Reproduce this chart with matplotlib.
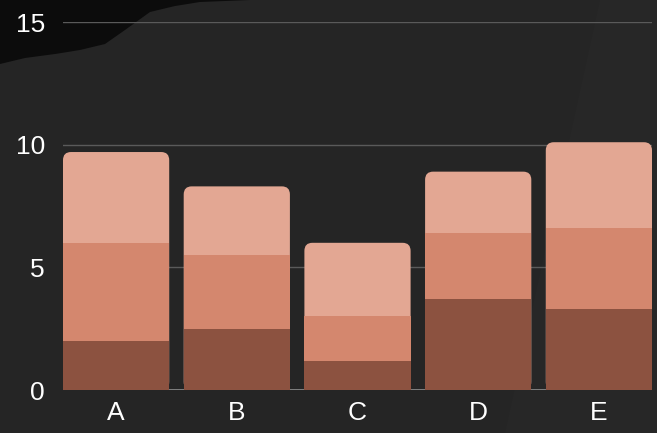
import matplotlib.pyplot as plt
import numpy as np
from matplotlib.patches import FancyBboxPatch, Polygon

plt.rcParams['font.family'] = ['Liberation Sans', 'DejaVu Sans']

# data
categories = ['A', 'B', 'C', 'D', 'E']
bottom_vals = [2.0, 2.5, 1.2, 3.7, 3.3]
mid_vals = [4.0, 3.0, 1.8, 2.7, 3.3]
top_vals = [3.7, 2.8, 3.0, 2.5, 3.5]
yticks = [0, 5, 10, 15]

c_bottom = '#8c5240'
c_mid = '#d4876e'
c_top = '#e3a793'
bg = '#252525'

fig = plt.figure(figsize=(6.57, 4.33), dpi=100, facecolor=bg)

# dark brush stroke in top-left corner (figure pixel coords, origin top-left)
W, H = 657, 433
stroke = [(0, 0), (250, 0), (200, 2), (175, 6), (150, 12), (125, 30), (105, 44),
          (80, 50), (55, 54), (25, 58), (0, 64)]
fig.patches.append(Polygon([(x / W, 1 - y / H) for x, y in stroke], closed=True,
                           transform=fig.transFigure, facecolor='#0c0c0c',
                           edgecolor='none', zorder=-2))
# faint lighter band on the right
band = [(600, 0), (657, 0), (657, 433), (505, 433)]
fig.patches.append(Polygon([(x / W, 1 - y / H) for x, y in band], closed=True,
                           transform=fig.transFigure, facecolor='#272727',
                           edgecolor='none', zorder=-2))

ax = fig.add_axes([63 / W, 43 / H, 589 / W, 368 / H])
ax.set_facecolor('none')

x = np.arange(len(categories))
width = 0.88
b = np.array(bottom_vals)
m = np.array(mid_vals)
t = np.array(top_vals)

# top segment drawn as rounded box covering whole bar, then others over it
rx = 0.066
ry = 0.33
for xi, total in zip(x, b + m + t):
    patch = FancyBboxPatch((xi - width / 2, 0), width, total,
                           boxstyle=f'round,pad=0,rounding_size={rx}',
                           mutation_aspect=ry / rx, facecolor=c_top,
                           edgecolor='none', zorder=2)
    ax.add_patch(patch)
ax.bar(x, m, width, bottom=b, color=c_mid, zorder=3)
ax.bar(x, b, width, color=c_bottom, zorder=3)

ax.set_xlim(-0.44, 4.44)
ax.set_ylim(0, 15)
ax.set_yticks(yticks)
ax.set_xticks(x)
ax.set_xticklabels(categories)
ax.tick_params(colors='white', labelsize=19, length=0)
ax.tick_params(axis='y', pad=13)
ax.tick_params(axis='x', pad=8)
ax.grid(axis='y', color='#5a5a5a', linewidth=1, zorder=1)
ax.axhline(0, color='#9a9a9a', linewidth=1.2, zorder=1)
for s in ax.spines.values():
    s.set_visible(False)

fig.savefig('out.png', dpi=100, facecolor=bg)
